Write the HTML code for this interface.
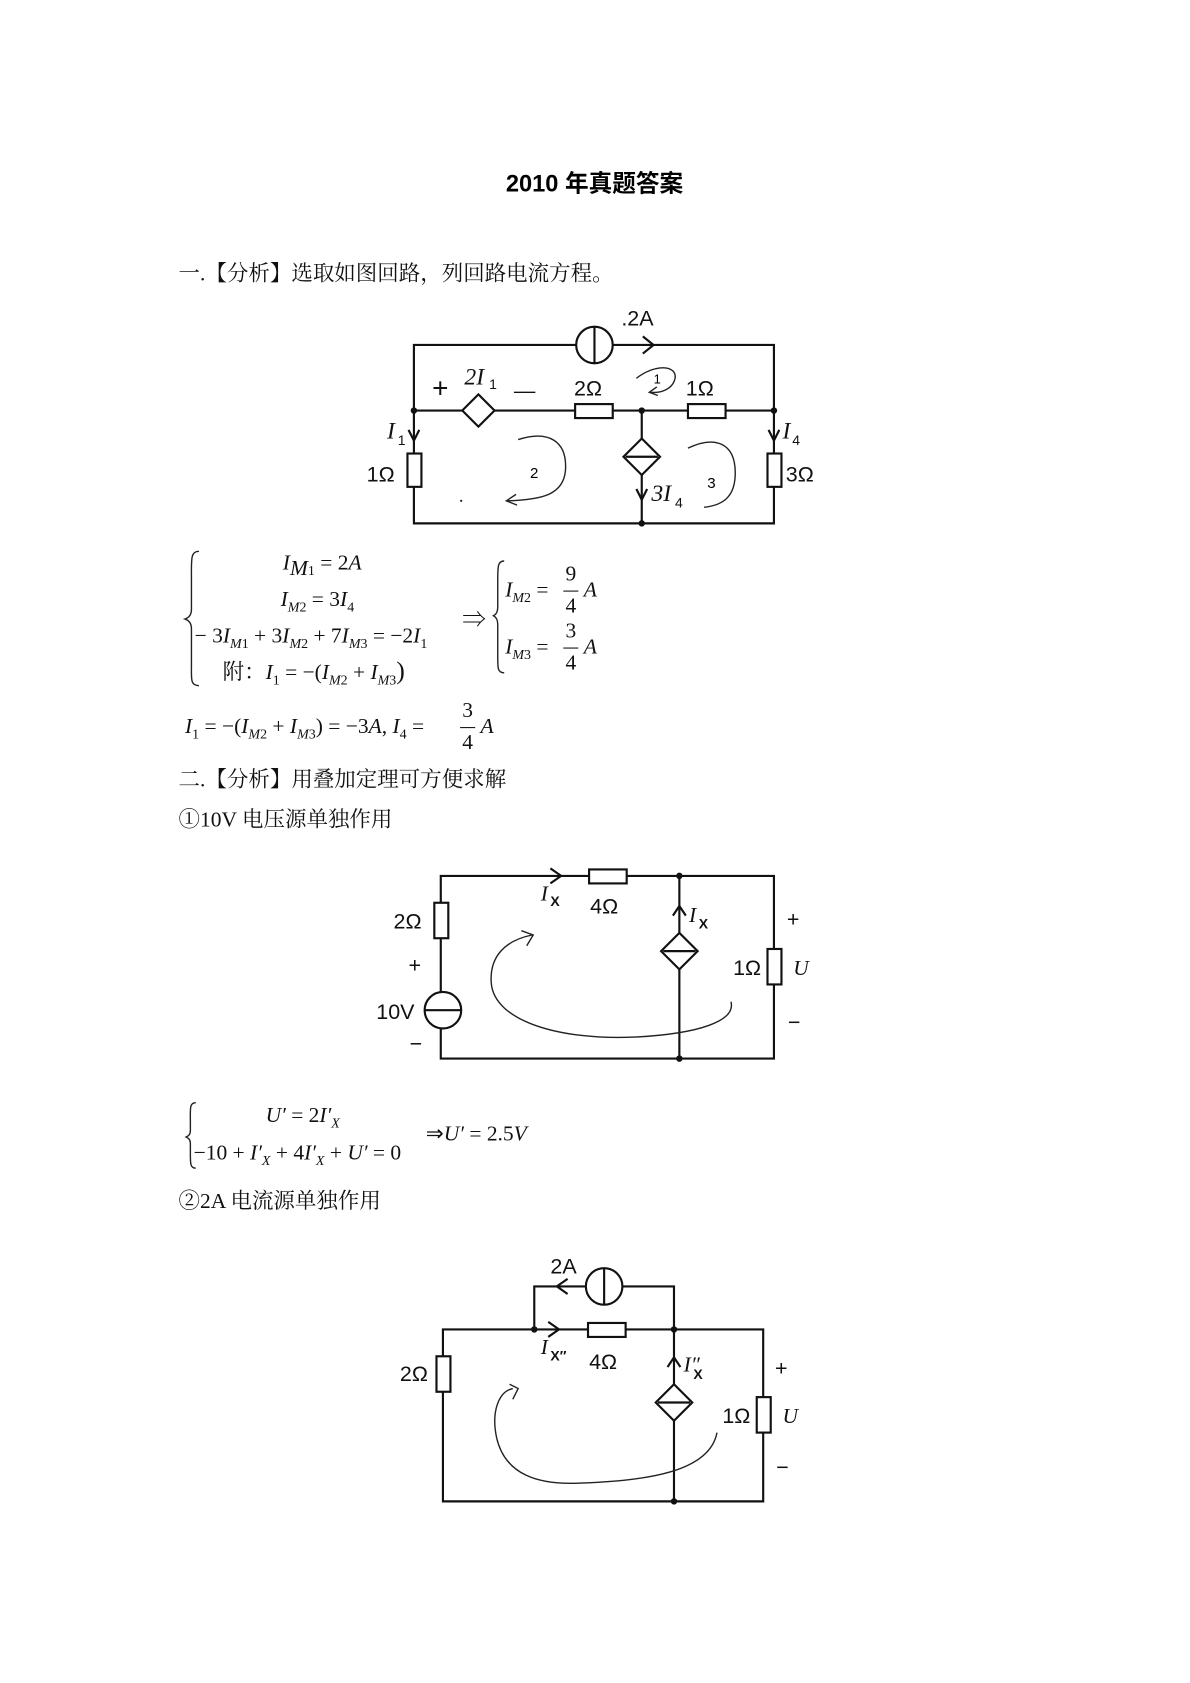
<!DOCTYPE html>
<html><head><meta charset="utf-8"><style>
html,body{margin:0;padding:0;background:#fff;}
svg{display:block;}
.t{font-family:"Liberation Serif","Noto Serif CJK SC","Noto Sans CJK SC",serif;font-size:20px;fill:#111;}
.m{font-family:"Liberation Serif",serif;font-style:italic;font-size:20px;fill:#111;}
.c{font-family:"Liberation Sans",sans-serif;font-size:20px;fill:#111;}
.w{stroke:#111;stroke-width:2;fill:none;}
.r{stroke:#111;stroke-width:2;fill:#fff;}
.h{stroke:#222;stroke-width:1.3;fill:none;}
</style></head><body>
<svg width="1190" height="1683" viewBox="0 0 1107 1566" xmlns="http://www.w3.org/2000/svg">
<text x="553" y="178" text-anchor="middle" style="font-family:'Liberation Sans','Noto Sans CJK SC',sans-serif;font-weight:bold;font-size:22px;">2010 年真题答案</text>
<text x="166" y="261" class="t">一.【分析】选取如图回路，列回路电流方程。</text>

<!-- circuit 1 -->
<g>
<path class="w" d="M385 321H720V487H385Z M385 382H720 M597 382V487"/>
<circle class="r" cx="553" cy="321" r="17"/><line class="w" x1="553" y1="304" x2="553" y2="338"/>
<path class="w" d="M598 313L608 321L598 329"/>
<text x="578" y="303" class="c">.2A</text>
<path class="r" d="M445 367L460 382L445 397L430 382Z"/>
<text x="402" y="370" class="c" style="font-size:26px">+</text>
<text x="432" y="358" class="m" style="font-size:22px">2I</text><text x="455" y="362" class="c" style="font-size:13px">1</text>
<text x="478" y="370" class="c">—</text>
<rect class="r" x="535" y="376" width="35" height="13"/>
<text x="534" y="368" class="c">2Ω</text>
<rect class="r" x="640" y="376" width="35" height="13"/>
<text x="638" y="368" class="c">1Ω</text>
<circle cx="385" cy="382" r="3" fill="#111"/><circle cx="597" cy="382" r="3" fill="#111"/><circle cx="720" cy="382" r="3" fill="#111"/><circle cx="597" cy="487" r="3" fill="#111"/>
<rect class="r" x="379" y="422" width="13" height="31"/>
<rect class="r" x="714" y="422" width="13" height="31"/>
<path class="w" d="M380 400L385 410L390 400"/>
<text x="360" y="408" class="m" style="font-size:22px">I</text><text x="370" y="414" class="c" style="font-size:13px">1</text>
<text x="341" y="448" class="c">1Ω</text>
<path class="w" d="M715 400L720 410L725 400"/>
<text x="728" y="408" class="m" style="font-size:22px">I</text><text x="737" y="414" class="c" style="font-size:13px">4</text>
<text x="731" y="448" class="c">3Ω</text>
<path class="r" d="M597 408L614 425L597 442L580 425Z"/><line class="w" x1="582" y1="425" x2="612" y2="425"/>
<path class="w" d="M592 455L597 465L602 455"/>
<text x="606" y="466" class="m" style="font-size:22px">3I</text><text x="628" y="472" class="c" style="font-size:13px">4</text>
<path class="h" d="M592 352C610 338 630 340 628 352C626 362 615 366 605 365M611 360L604 365L612 368"/>
<text x="608" y="357" style="font-family:'Liberation Sans';font-size:12px">1</text>
<path class="h" d="M482 409C510 400 528 410 526 438C524 460 505 465 472 466M480 460L471 466L481 470"/>
<text x="493" y="445" style="font-family:'Liberation Sans';font-size:14px">2</text>
<path class="h" d="M640 417C665 405 684 412 684 440C684 460 675 470 655 472"/>
<text x="658" y="454" style="font-family:'Liberation Sans';font-size:14px">3</text>
<circle cx="429" cy="466" r="1" fill="#111"/>
</g>

<!-- equations 1 -->
<path class="h" d="M185 513C177 513 178 520 178 540V567C178 573 175 575 172 576C175 577 178 579 178 585V620C178 632 177 638 185 638"/>
<text x="263" y="530" class="m">I<tspan class="t" dy="5" font-size="13" font-style="italic">M</tspan><tspan font-size="13" font-style="normal">1</tspan><tspan dy="-5" font-style="normal"> = 2</tspan>A</text>
<text x="261" y="564" class="m">I<tspan dy="5" font-size="13">M</tspan><tspan font-size="13" font-style="normal">2</tspan><tspan dy="-5" font-style="normal"> = 3</tspan>I<tspan dy="5" font-size="13" font-style="normal">4</tspan></text>
<text x="181" y="598" class="m"><tspan font-style="normal">− 3</tspan>I<tspan dy="5" font-size="13">M</tspan><tspan font-size="13" font-style="normal">1</tspan><tspan dy="-5" font-style="normal"> + 3</tspan>I<tspan dy="5" font-size="13">M</tspan><tspan font-size="13" font-style="normal">2</tspan><tspan dy="-5" font-style="normal"> + 7</tspan>I<tspan dy="5" font-size="13">M</tspan><tspan font-size="13" font-style="normal">3</tspan><tspan dy="-5" font-style="normal"> = −2</tspan>I<tspan dy="5" font-size="13" font-style="normal">1</tspan></text>
<text x="207" y="632" class="m"><tspan font-style="normal" style="font-family:'Noto Serif CJK SC','Noto Sans CJK SC',serif">附：</tspan>I<tspan dy="5" font-size="13" font-style="normal">1</tspan><tspan dy="-5" font-style="normal"> = −(</tspan>I<tspan dy="5" font-size="13">M</tspan><tspan font-size="13" font-style="normal">2</tspan><tspan dy="-5" font-style="normal"> + </tspan>I<tspan dy="5" font-size="13">M</tspan><tspan font-size="13" font-style="normal">3</tspan><tspan dy="-5" font-style="normal" font-size="24">)</tspan></text>
<text x="430" y="584" class="t" style="font-size:22px">⇒</text>
<path class="h" d="M469 522C463 522 463 527 463 540V565C463 570 461 572 459 573C461 574 463 576 463 581V612C463 622 463 626 469 626"/>
<text x="470" y="555" class="m">I<tspan dy="5" font-size="13">M</tspan><tspan font-size="13" font-style="normal">2</tspan><tspan dy="-5" font-style="normal"> =</tspan></text>
<text x="526" y="540" class="t">9</text><line x1="524" y1="550" x2="538" y2="550" stroke="#111" stroke-width="1"/><text x="526" y="570" class="t">4</text><text x="543" y="555" class="m">A</text>
<text x="470" y="608" class="m">I<tspan dy="5" font-size="13">M</tspan><tspan font-size="13" font-style="normal">3</tspan><tspan dy="-5" font-style="normal"> =</tspan></text>
<text x="526" y="593" class="t">3</text><line x1="524" y1="603" x2="538" y2="603" stroke="#111" stroke-width="1"/><text x="526" y="623" class="t">4</text><text x="543" y="608" class="m">A</text>
<text x="172" y="682" class="m">I<tspan dy="5" font-size="13" font-style="normal">1</tspan><tspan dy="-5" font-style="normal"> = −(</tspan>I<tspan dy="5" font-size="13">M</tspan><tspan font-size="13" font-style="normal">2</tspan><tspan dy="-5" font-style="normal"> + </tspan>I<tspan dy="5" font-size="13">M</tspan><tspan font-size="13" font-style="normal">3</tspan><tspan dy="-5" font-style="normal">) = −3</tspan>A<tspan font-style="normal">, </tspan>I<tspan dy="5" font-size="13" font-style="normal">4</tspan><tspan dy="-5" font-style="normal"> =</tspan></text>
<text x="430" y="667" class="t">3</text><line x1="428" y1="677" x2="442" y2="677" stroke="#111" stroke-width="1"/><text x="430" y="697" class="t">4</text><text x="447" y="682" class="m">A</text>

<text x="166" y="732" class="t">二.【分析】用叠加定理可方便求解</text>
<text x="166" y="769" class="t">①10V 电压源单独作用</text>

<!-- circuit 2 -->
<g>
<path class="w" d="M410 815H720V985H410Z M632 815V985"/>
<rect class="r" x="404" y="840" width="13" height="33"/>
<text x="366" y="864" class="c">2Ω</text>
<text x="380" y="905" class="c">+</text>
<circle class="r" cx="412" cy="940" r="17"/><line class="w" x1="395" y1="940" x2="429" y2="940"/>
<text x="350" y="948" class="c">10V</text>
<text x="381" y="978" class="c">−</text>
<rect class="r" x="548" y="809" width="35" height="13"/>
<text x="549" y="850" class="c">4Ω</text>
<path class="w" d="M512 808L522 815L512 822"/>
<text x="503" y="838" class="m" style="font-size:20px">I</text><text x="512" y="843" class="c" style="font-size:13px;font-weight:bold">X</text>
<circle cx="632" cy="815" r="3" fill="#111"/><circle cx="632" cy="985" r="3" fill="#111"/>
<path class="r" d="M632 868L649 885L632 902L615 885Z"/><line class="w" x1="617" y1="885" x2="647" y2="885"/>
<path class="w" d="M626 852L632 843L638 852"/>
<text x="641" y="858" class="m">I</text><text x="650" y="864" class="c" style="font-size:13px;font-weight:bold">X</text>
<rect class="r" x="714" y="883" width="13" height="33"/>
<text x="682" y="907" class="c">1Ω</text>
<text x="738" y="907" class="m">U</text>
<text x="732" y="862" class="c">+</text>
<text x="733" y="958" class="c">−</text>
<path class="h" d="M495 870C470 875 455 890 457 915C460 950 520 968 590 965C650 962 685 950 680 932M485 866L496 870L490 880"/>
</g>

<!-- equations 2 -->
<path class="h" d="M182 1026C176 1026 177 1032 177 1044V1052C177 1056 175 1057 173 1058C175 1059 177 1060 177 1064V1074C177 1083 177 1087 182 1087"/>
<text x="247" y="1044" class="m">U′<tspan font-style="normal"> = 2</tspan>I′<tspan dy="5" font-size="13">X</tspan></text>
<text x="180" y="1079" class="m"><tspan font-style="normal">−10 + </tspan>I′<tspan dy="5" font-size="13">X</tspan><tspan dy="-5" font-style="normal"> + 4</tspan>I′<tspan dy="5" font-size="13">X</tspan><tspan dy="-5" font-style="normal"> + </tspan>U′<tspan font-style="normal"> = 0</tspan></text>
<text x="396" y="1061" class="m"><tspan font-style="normal">⇒</tspan>U′<tspan font-style="normal"> = 2.5</tspan>V</text>
<text x="166" y="1124" class="t">②2A 电流源单独作用</text>

<!-- circuit 3 -->
<g>
<path class="w" d="M412 1237H710V1397H412Z M627 1237V1397 M497 1237V1197H627V1237"/>
<circle class="r" cx="562" cy="1197" r="17"/><line class="w" x1="562" y1="1180" x2="562" y2="1214"/>
<path class="w" d="M528 1190L518 1197L528 1204"/>
<text x="512" y="1185" class="c">2A</text>
<circle cx="497" cy="1237" r="3" fill="#111"/><circle cx="627" cy="1237" r="3" fill="#111"/><circle cx="627" cy="1397" r="3" fill="#111"/>
<path class="w" d="M510 1230L520 1237L510 1244"/>
<rect class="r" x="547" y="1231" width="35" height="13"/>
<text x="548" y="1274" class="c">4Ω</text>
<text x="503" y="1260" class="m">I</text><text x="512" y="1266" class="c" style="font-size:13px;font-weight:bold">X″</text>
<rect class="r" x="406" y="1262" width="13" height="33"/>
<text x="372" y="1285" class="c">2Ω</text>
<path class="r" d="M627 1288L644 1305L627 1322L610 1305Z"/><line class="w" x1="612" y1="1305" x2="642" y2="1305"/>
<path class="w" d="M621 1272L627 1263L633 1272"/>
<text x="636" y="1276" class="m">I″</text><text x="645" y="1283" class="c" style="font-size:13px;font-weight:bold">X</text>
<rect class="r" x="704" y="1300" width="13" height="33"/>
<text x="672" y="1324" class="c">1Ω</text>
<text x="728" y="1324" class="m">U</text>
<text x="721" y="1280" class="c">+</text>
<text x="722" y="1372" class="c">−</text>
<path class="h" d="M477 1292C463 1295 457 1315 462 1338C470 1372 500 1382 540 1380C600 1378 660 1370 667 1333M474 1288L482 1292L477 1302"/>
</g>
</svg>
</body></html>
